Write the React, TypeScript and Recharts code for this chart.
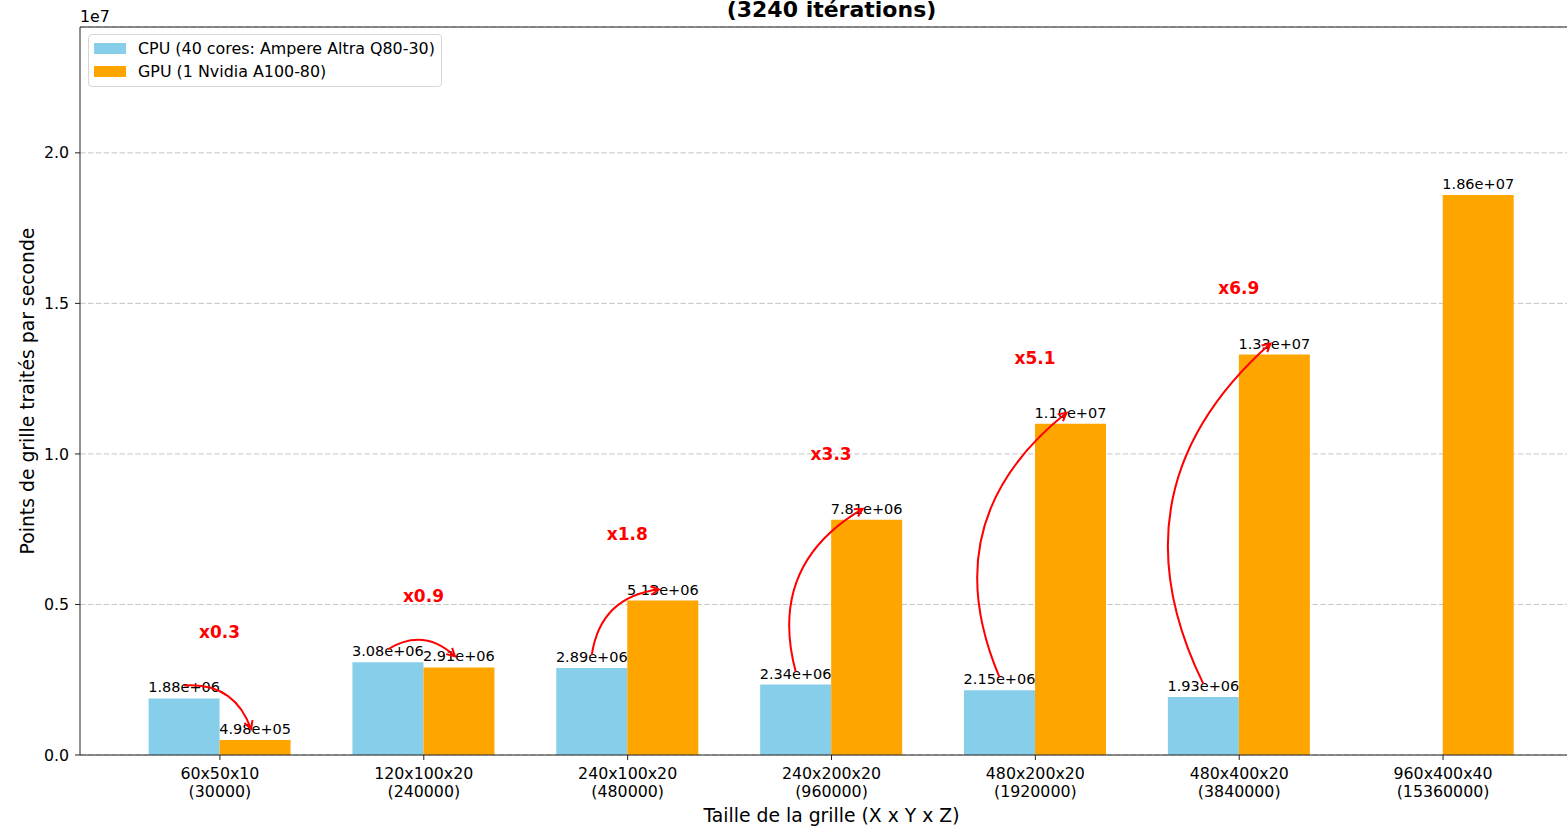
import React from "react";
import { BarChart, Bar, XAxis, YAxis, CartesianGrid, Legend, LabelList } from "recharts";

// grid sizes and total points (x tick labels)
const grids = ["60x50x10", "120x100x20", "240x100x20", "240x200x20", "480x200x20", "480x400x20", "960x400x40"];
const totalPoints = [30000, 240000, 480000, 960000, 1920000, 3840000, 15360000];

// points per second
const cpuRate: (number | null)[] = [1.88e6, 3.08e6, 2.89e6, 2.34e6, 2.15e6, 1.93e6, null];
const gpuRate = [4.98e5, 2.91e6, 5.13e6, 7.81e6, 1.1e7, 1.33e7, 1.86e7];

const yTicks = [0, 5e6, 1e7, 1.5e7, 2e7];

const data = grids.map((g, i) => ({ grid: g, cpu: cpuRate[i], gpu: gpuRate[i] }));

const yMax = Math.max(...gpuRate) * 1.3;
const SPEEDUP_OFFSET = 2.2e6; // speed-up text sits this far above the taller bar

const FONT = "'DejaVu Sans', sans-serif";

// matplotlib-like "1.88e+06"
const sci = (v: any) => {
  if (v == null || v === "") return "";
  const [m, e] = Number(v).toExponential(2).split("e");
  return `${m}e${e[0]}${e.slice(1).padStart(2, "0")}`;
};

const GridTick = (props: any) => {
  const { x, y, payload } = props;
  return (
    <text x={x} y={y} textAnchor="middle" fontSize={15.8} fill="#000">
      <tspan x={x} dy={16.5}>{payload.value}</tspan>
      <tspan x={x} dy={18}>({totalPoints[payload.index]})</tspan>
    </text>
  );
};

// curved red arrow CPU -> GPU plus the speed-up factor, drawn from the GPU bar geometry
const renderSpeedup = (props: any) => {
  const vb = props.viewBox || props;
  const { x, y, width, height } = vb;
  const i = props.index;
  const g = gpuRate[i];
  const c = cpuRate[i];
  if (c == null || !g) return null;
  const bottom = y + height;
  const k = height / g;
  const sx = x - width / 2;
  const sy = bottom - c * k - 13;
  const ex = x + width / 2 - 4;
  const ey = y - 11;
  const dx = ex - sx;
  const dy = ey - sy;
  const len = Math.hypot(dx, dy);
  const rad = 0.38;
  const cx = (sx + ex) / 2 + rad * dy;
  const cy = (sy + ey) / 2 - rad * dx;
  // arrow head
  const tx = ex - cx;
  const ty = ey - cy;
  const tl = Math.hypot(tx, ty) || len;
  const ux = tx / tl;
  const uy = ty / tl;
  const hl = 9;
  const ang = 0.5;
  const h1x = ex - hl * (ux * Math.cos(ang) - uy * Math.sin(ang));
  const h1y = ey - hl * (ux * Math.sin(ang) + uy * Math.cos(ang));
  const h2x = ex - hl * (ux * Math.cos(-ang) - uy * Math.sin(-ang));
  const h2y = ey - hl * (ux * Math.sin(-ang) + uy * Math.cos(-ang));
  const ty2 = bottom - (Math.max(c, g) + SPEEDUP_OFFSET) * k;
  return (
    <g>
      <path d={`M${sx},${sy} Q${cx},${cy} ${ex},${ey}`} fill="none" stroke="#ff0000" strokeWidth={2} />
      <path d={`M${h1x},${h1y} L${ex},${ey} L${h2x},${h2y}`} fill="none" stroke="#ff0000" strokeWidth={2} />
      <text
        x={x}
        y={ty2}
        textAnchor="middle"
        dominantBaseline="central"
        fill="#ff0000"
        fontWeight="bold"
        fontSize={17}
        fontFamily={FONT}
      >
        x{(g / c).toFixed(1)}
      </text>
    </g>
  );
};

const renderLegend = (props: any) => {
  const { payload } = props;
  return (
    <div
      style={{
        boxSizing: "border-box",
        width: 354,
        height: 53,
        border: "1px solid #d6d6d6",
        borderRadius: 4,
        background: "#fff",
        padding: "2px 0 0 5px",
        fontFamily: FONT,
        fontSize: 15.9,
        color: "#000",
      }}
    >
      {(payload || []).map((p: any) => (
        <div key={p.value} style={{ display: "flex", alignItems: "center", height: 23 }}>
          <span style={{ display: "inline-block", width: 32, height: 11, background: p.color, marginRight: 12 }} />
          <span>{p.value}</span>
        </div>
      ))}
    </div>
  );
};

export default function App() {
  return (
    <div
      style={{
        position: "fixed",
        left: 0,
        top: 0,
        width: 1567,
        height: 827,
        overflow: "hidden",
        background: "#fff",
        fontFamily: FONT,
      }}
    >
      <BarChart
        width={1600}
        height={827}
        data={data}
        margin={{ top: 26, right: 17, bottom: 0, left: 0 }}
        barCategoryGap="15%"
        barGap={0}
      >
        <CartesianGrid vertical={false} stroke="#c4c4c4" strokeDasharray="5.5 2.4" />
        <XAxis
          dataKey="grid"
          height={72}
          padding={{ left: 38, right: 38 }}
          axisLine={{ stroke: "#222" }}
          tickLine={{ stroke: "#222" }}
          tickSize={5}
          tickMargin={2}
          interval={0}
          tick={<GridTick />}
          label={{
            content: (p: any) => {
              const vb = p.viewBox;
              return (
                <text x={vb.x + vb.width / 2} y={vb.y + 67} textAnchor="middle" fontSize={18.8} fill="#000" fontFamily={FONT}>
                  Taille de la grille (X x Y x Z)
                </text>
              );
            },
          }}
        />
        <XAxis
          xAxisId="top"
          orientation="top"
          dataKey="grid"
          height={1}
          padding={{ left: 38, right: 38 }}
          tick={false}
          tickLine={false}
          axisLine={{ stroke: "#222", strokeWidth: 1.2 }}
          label={{
            content: (p: any) => {
              const vb = p.viewBox;
              return (
                <text x={vb.x + vb.width / 2} y={17} textAnchor="middle" fontSize={22} fontWeight="bold" fill="#000" fontFamily={FONT}>
                  (3240 itérations)
                </text>
              );
            },
          }}
        />
        <YAxis
          width={80}
          type="number"
          domain={[0, yMax]}
          ticks={yTicks}
          allowDataOverflow
          axisLine={{ stroke: "#222" }}
          tickLine={{ stroke: "#222" }}
          tickSize={5}
          tickMargin={6}
          tick={{ fill: "#000", fontSize: 15.8 }}
          tickFormatter={(v: number) => (v / 1e7).toFixed(1)}
          label={{
            content: (p: any) => {
              const vb = p.viewBox;
              const cy = vb.y + vb.height / 2;
              return (
                <g fontFamily={FONT} fill="#000">
                  <text x={vb.x + vb.width} y={vb.y - 5} fontSize={15.8}>
                    1e7
                  </text>
                  <text
                    x={27}
                    y={cy}
                    transform={`rotate(-90 27 ${cy})`}
                    textAnchor="middle"
                    dominantBaseline="central"
                    fontSize={18.8}
                  >
                    Points de grille traités par seconde
                  </text>
                </g>
              );
            },
          }}
        />
        <Legend
          layout="vertical"
          align="center"
          verticalAlign="middle"
          wrapperStyle={{ left: 88, top: 34, width: 354, height: 53 }}
          content={renderLegend}
        />
        <Bar dataKey="cpu" name="CPU (40 cores: Ampere Altra Q80-30)" fill="#87ceeb" isAnimationActive={false}>
          <LabelList dataKey="cpu" position="top" offset={6} fontSize={14.5} fill="#000" formatter={sci} />
        </Bar>
        <Bar dataKey="gpu" name="GPU (1 Nvidia A100-80)" fill="#ffa500" isAnimationActive={false}>
          <LabelList dataKey="gpu" position="top" offset={6} fontSize={14.5} fill="#000" formatter={sci} />
          <LabelList dataKey="gpu" content={renderSpeedup} />
        </Bar>
      </BarChart>
    </div>
  );
}
